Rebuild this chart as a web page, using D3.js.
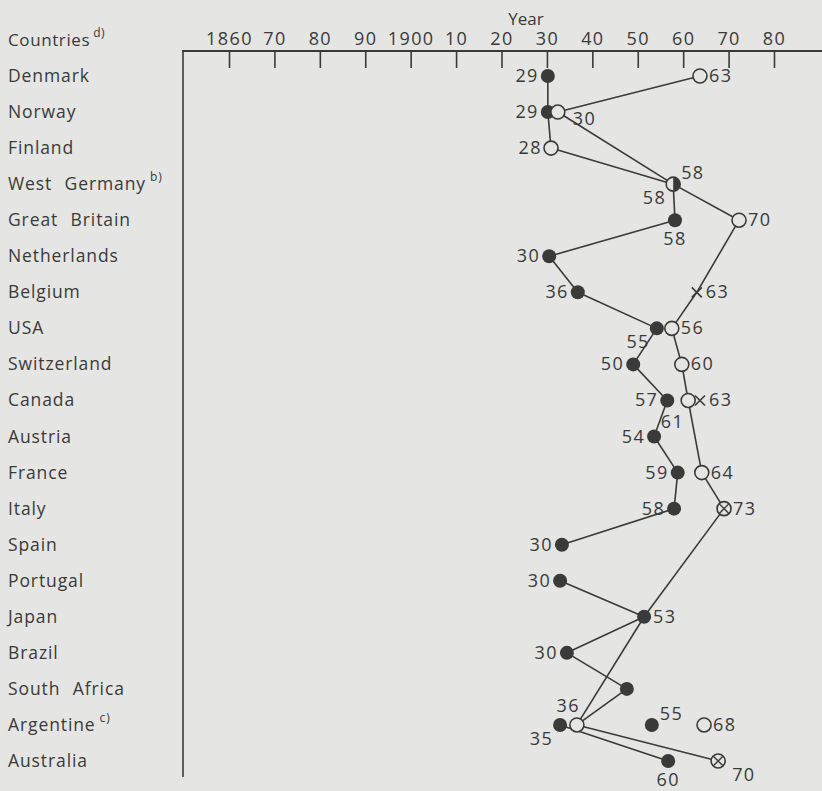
<!DOCTYPE html>
<html>
<head>
<meta charset="utf-8">
<script src="https://cdn.jsdelivr.net/npm/d3@7"></script>
<style>
  html, body { margin: 0; padding: 0; background: #e5e5e3; }
  svg { display: block; }
  text { font-family: "Open Sans", sans-serif; fill: #3a3a3a; }
</style>
</head>
<body>
<div id="chart"></div>
<script>
// countries, top to bottom
const countries = ["Denmark", "Norway", "Finland", "West Germany", "Great Britain", "Netherlands",
  "Belgium", "USA", "Switzerland", "Canada", "Austria", "France", "Italy", "Spain", "Portugal",
  "Japan", "Brazil", "South Africa", "Argentine", "Australia"];
const countryNotes = ["", "", "", "b)", "", "", "", "", "", "", "", "", "", "", "", "", "", "", "c)", ""];

const tickYears = [1860, 1870, 1880, 1890, 1900, 1910, 1920, 1930, 1940, 1950, 1960, 1970, 1980];
const tickLabels = ["1860", "70", "80", "90", "1900", "10", "20", "30", "40", "50", "60", "70", "80"];

// points: country, year as plotted, marker kind, printed label
// kinds: f = filled, o = open, h = half filled, x = cross, ox = circled cross
const pointCountry = ["Denmark", "Denmark", "Norway", "Norway", "Finland", "West Germany",
  "Great Britain", "Great Britain", "Netherlands", "Belgium", "Belgium", "USA", "USA",
  "Switzerland", "Switzerland", "Canada", "Canada", "Canada", "Austria", "France", "France",
  "Italy", "Italy", "Spain", "Portugal", "Japan", "Brazil", "South Africa",
  "Argentine", "Argentine", "Argentine", "Argentine", "Australia", "Australia"];
const pointYear = [1930.2, 1963.7, 1930.2, 1932.4, 1930.9, 1957.8,
  1958.2, 1972.3, 1930.5, 1936.8, 1963, 1954.2, 1957.5,
  1949, 1959.7, 1956.5, 1961.1, 1963.7, 1953.6, 1958.8, 1964.1,
  1958, 1969, 1933.3, 1932.9, 1951.4, 1934.4, 1947.6,
  1932.9, 1936.6, 1953.1, 1964.6, 1956.7, 1967.7];
const pointKind = ["f", "o", "f", "o", "o", "h",
  "f", "o", "f", "f", "x", "f", "o",
  "f", "o", "f", "o", "x", "f", "f", "o",
  "f", "ox", "f", "f", "f", "f", "f",
  "f", "o", "f", "o", "f", "ox"];
const pointLabel = ["29", "63", "29", "30", "28", ["58", "58"],
  "58", "70", "30", "36", "63", "55", "56",
  "50", "60", "57", "61", "63", "54", "59", "64",
  "58", "73", "30", "30", "53", "30", "",
  "35", "36", "55", "68", "60", "70"];

// which points are joined by a line (indices into the point arrays)
const links = [[0, 2], [1, 3], [2, 4], [3, 5], [4, 5], [5, 6], [5, 7], [6, 8], [8, 9], [7, 10],
  [9, 11], [10, 12], [11, 13], [12, 14], [13, 15], [14, 16], [15, 18], [16, 20], [18, 19],
  [19, 21], [20, 22], [21, 23], [22, 25], [24, 25], [25, 26], [25, 29], [26, 27], [27, 29],
  [28, 32], [29, 33]];

// where each label sits next to its marker
const labelSide = ["l", "r", "l", "rb", "l", ["ar", "bl"],
  "b", "r", "l", "l", "r", "bl", "r",
  "l", "r", "l", "bb", "r", "l", "l", "r",
  "l", "r", "l", "l", "r", "l", "",
  "bl", "al", "ar", "r", "b", "br"];

const width = 822, height = 791;
const ink = "#3a3a3a", paper = "#e5e5e3";

const svg = d3.select("#chart").append("svg")
  .attr("width", width).attr("height", height);

const x = d3.scaleLinear().domain([1860, 1980]).range([229, 774]);
const y = d3.scalePoint().domain(countries).range([76, 761]);
const axisY = 51, leftX = 183;

// header texts
svg.append("text").attr("x", 526).attr("y", 25).attr("text-anchor", "middle")
  .style("font-size", "17px").text("Year");

const head = svg.append("text").attr("x", 8).attr("y", 46)
  .style("font-size", "17px").style("letter-spacing", "0.6px");
head.append("tspan").text("Countries");
head.append("tspan").attr("dx", 3).attr("dy", -9).style("font-size", "12px").text("d)");

// axis
svg.append("line").attr("x1", leftX - 1).attr("x2", width).attr("y1", axisY).attr("y2", axisY)
  .attr("stroke", ink).attr("stroke-width", 2);
svg.append("line").attr("x1", leftX).attr("x2", leftX).attr("y1", axisY).attr("y2", 777)
  .attr("stroke", ink).attr("stroke-width", 1.6);

const axis = svg.append("g").attr("transform", `translate(0,${axisY})`)
  .call(d3.axisBottom(x).tickValues(tickYears).tickFormat((d, i) => tickLabels[i]).tickSize(17));
axis.select(".domain").remove();
axis.selectAll(".tick line").attr("stroke", ink).attr("stroke-width", 1.6);
axis.selectAll(".tick text").attr("y", -6).attr("dy", 0)
  .attr("fill", ink).style("font-size", "18px").style("font-family", "Open Sans, sans-serif")
  .style("letter-spacing", "1.4px");

// country names
countries.forEach((c, i) => {
  const t = svg.append("text").attr("x", 8).attr("y", y(c) + 6)
    .style("font-size", "17.5px").style("letter-spacing", "0.9px").style("word-spacing", "7px");
  t.append("tspan").text(c);
  if (countryNotes[i]) {
    t.append("tspan").attr("dx", 4).attr("dy", -9).style("font-size", "12px").text(countryNotes[i]);
  }
});

const pts = pointYear.map((yr, i) => ({
  cx: x(yr), cy: y(pointCountry[i]), kind: pointKind[i],
  label: pointLabel[i], side: labelSide[i]
}));

// connecting lines first, markers on top
svg.append("g").selectAll("line").data(links).join("line")
  .attr("x1", d => pts[d[0]].cx).attr("y1", d => pts[d[0]].cy)
  .attr("x2", d => pts[d[1]].cx).attr("y2", d => pts[d[1]].cy)
  .attr("stroke", ink).attr("stroke-width", 1.6);

const r = 7;
const marks = svg.append("g");
pts.forEach(p => {
  const g = marks.append("g").attr("transform", `translate(${p.cx},${p.cy})`);
  if (p.kind === "f") {
    g.append("circle").attr("r", r).attr("fill", ink);
  } else if (p.kind === "o" || p.kind === "ox" || p.kind === "h") {
    g.append("circle").attr("r", r).attr("fill", paper).attr("stroke", ink).attr("stroke-width", 1.6);
    if (p.kind === "h") {
      g.append("path").attr("d", d3.arc()({ innerRadius: 0, outerRadius: r, startAngle: 0, endAngle: Math.PI }))
        .attr("fill", ink);
    }
    if (p.kind === "ox") {
      const s = r * 0.68;
      g.append("path").attr("d", `M${-s},${-s}L${s},${s}M${s},${-s}L${-s},${s}`)
        .attr("stroke", ink).attr("stroke-width", 1.4);
    }
  } else if (p.kind === "x") {
    const s = 5;
    g.append("path").attr("d", `M${-s},${-s}L${s},${s}M${s},${-s}L${-s},${s}`)
      .attr("stroke", ink).attr("stroke-width", 1.6);
  }
});

// value labels
const place = {
  l: [-9, 6, "end"], r: [9, 6, "start"], b: [0, 25, "middle"], a: [0, -11, "middle"],
  bl: [-7, 20, "end"], bb: [-4, 28, "end"], br: [14, 20, "start"], rb: [15, 13, "start"],
  ar: [8, -5, "start"], al: [3, -13, "end"]
};
const labels = svg.append("g");
pts.forEach(p => {
  const texts = Array.isArray(p.label) ? p.label : [p.label];
  const sides = Array.isArray(p.side) ? p.side : [p.side];
  texts.forEach((t, k) => {
    if (!t) return;
    const [dx, dy, anchor] = place[sides[k]];
    labels.append("text").attr("x", p.cx + dx).attr("y", p.cy + dy)
      .attr("text-anchor", anchor).style("font-size", "18px").style("letter-spacing", "1.4px")
      .text(t);
  });
});
</script>
</body>
</html>
